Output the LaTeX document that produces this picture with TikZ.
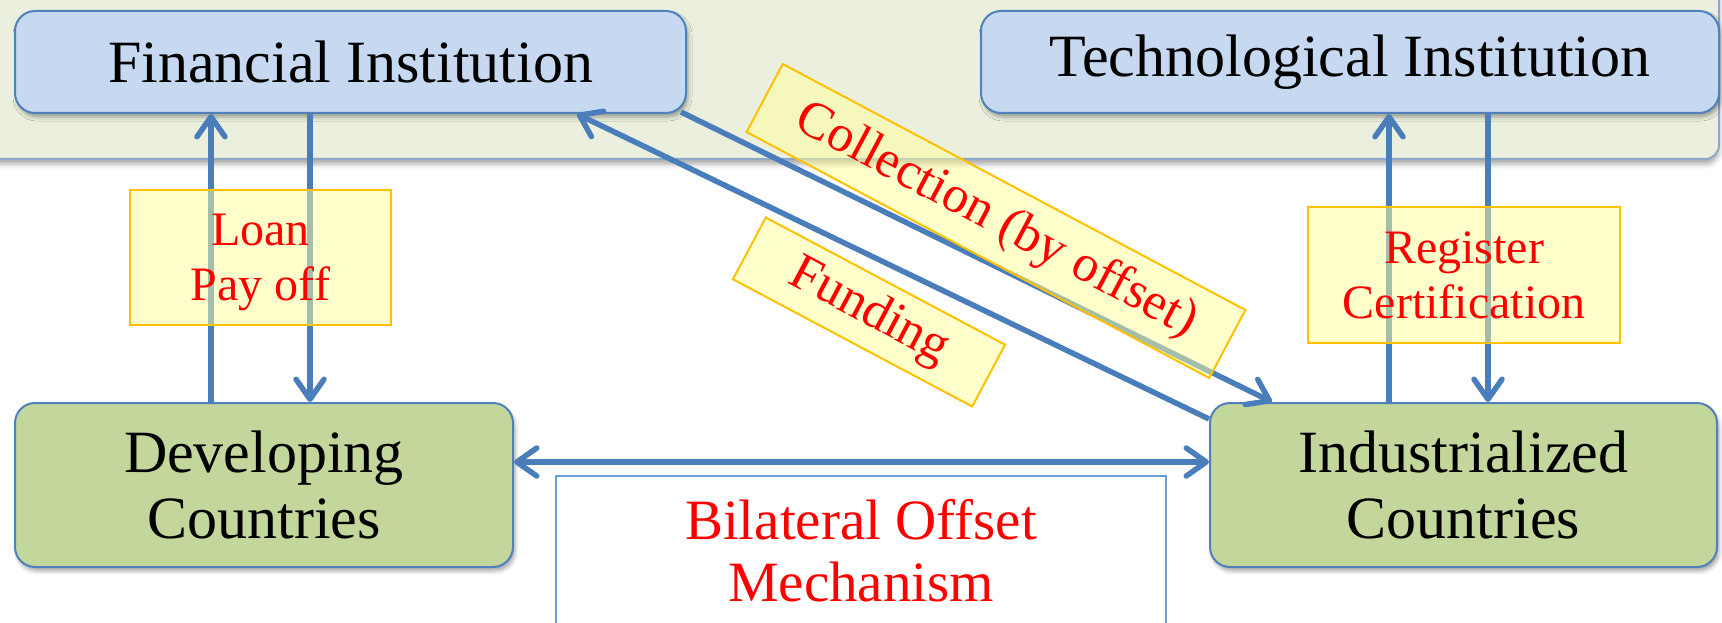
\documentclass[tikz,border=0pt]{standalone}
\usepackage{fontspec}
\setmainfont{Liberation Serif}
\usetikzlibrary{arrows.meta,shadows.blur}

\definecolor{flowblue}{HTML}{4A7EBB}
\definecolor{boxline}{HTML}{4F81BD}
\definecolor{instfill}{HTML}{C6D9F1}
\definecolor{cntfill}{HTML}{C3D69B}
\definecolor{bandfill}{HTML}{EBF0DE}
\definecolor{bandline}{HTML}{8EA9C8}
\definecolor{tagfill}{HTML}{FFFF99}
\definecolor{tagline}{HTML}{FFC000}
\definecolor{mechline}{HTML}{6F9BD6}

\begin{document}
\begin{tikzpicture}[x=1pt, y=-1pt, >={Straight Barb[length=20pt,width=28pt,round]},
  inst/.style={draw=boxline, line width=2pt, fill=instfill, rounded corners=20pt,
    inner sep=0pt, align=center, font=\fontsize{60}{66}\selectfont,
    blur shadow={shadow xshift=2pt, shadow yshift=-4pt, shadow blur radius=4pt, shadow opacity=35}},
  country/.style={inst, fill=cntfill},
  tag/.style={draw=tagline, line width=2pt, fill=tagfill, fill opacity=0.5, text opacity=1,
    text=red, align=center, inner sep=0pt, font=\fontsize{48}{55}\selectfont},
  flow/.style={->, flowblue, line width=5.5pt}]
  \useasboundingbox (0,0) rectangle (1722,623);

  % Institution band along the top
  \draw[draw=bandline, line width=2pt, fill=bandfill, rounded corners=14pt,
    blur shadow={shadow xshift=0pt, shadow yshift=-5pt, shadow blur radius=5pt, shadow opacity=35}]
    (-40,-40) rectangle (1719,159);

  % Institutions
  \node[inst, minimum width=671, minimum height=102] (fin) at (350.5,62) {Financial Institution};
  \node[inst, minimum width=738, minimum height=102] (tech) at (1350,62) {Technological Institution};

  % Countries
  \node[country, minimum width=498, minimum height=164] (dev) at (264,485) {Developing\\Countries};
  \node[country, minimum width=507, minimum height=164] (ind) at (1463.5,485) {Industrialized\\Countries};

  % x positions of the vertical flows
  \coordinate (loanx) at (211,0);
  \coordinate (payx) at (310,0);
  \coordinate (regx) at (1389,0);
  \coordinate (certx) at (1488,0);

  % Flows
  \draw[flow] (dev.north -| loanx) -- (fin.south -| loanx);
  \draw[flow] (fin.south -| payx) -- (dev.north -| payx);
  \draw[flow] (ind.north -| regx) -- (tech.south -| regx);
  \draw[flow] (tech.south -| certx) -- (ind.north -| certx);
  \draw[flow] ([yshift=-17pt]ind.north west) -- ([xshift=-110pt]fin.south east);
  \draw[flow] ([xshift=-6pt,yshift=2pt]fin.south east) -- ([xshift=63pt]ind.north west);
  \draw[flow, <->] ([yshift=23pt]dev.east) -- ([yshift=23pt]ind.west);

  % Labels on the flows
  \node[tag, text depth=0pt, minimum width=261, minimum height=135] (loan) at (260.5,257.5) {Loan\\Pay off};
  \node[tag, minimum width=312, minimum height=136] (reg) at (1464,275) {Register\\Certification};
  \node[tag, rotate=-28, minimum width=524, minimum height=77,
    font=\fontsize{52}{60}\selectfont] (coll) at (996,221) {Collection (by offset)};
  \node[tag, rotate=-28, minimum width=271, minimum height=70,
    font=\fontsize{52}{60}\selectfont] (fund) at (869,312) {Funding};

  % Mechanism box, runs off the bottom
  \node[draw=mechline, line width=1.5pt, fill=white, text=red, align=center,
    minimum width=610, minimum height=150, font=\fontsize{57}{62}\selectfont] (bom) at (861,551)
    {Bilateral Offset\\Mechanism};
\end{tikzpicture}
\end{document}
